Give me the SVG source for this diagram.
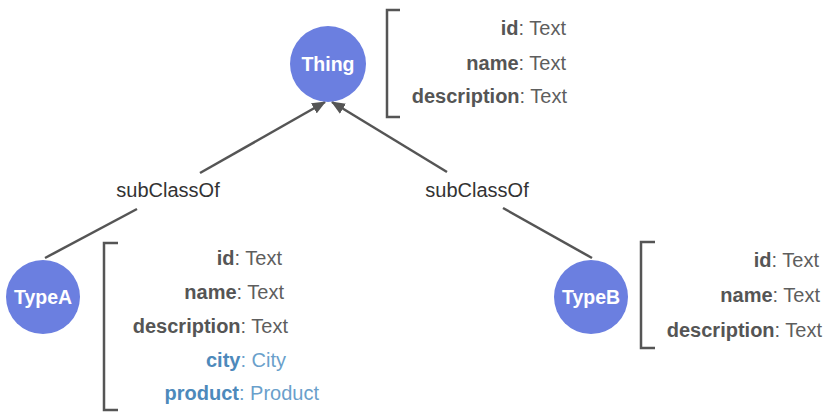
<svg xmlns="http://www.w3.org/2000/svg" width="827" height="412" viewBox="0 0 827 412">
<style>
.node{fill:#6b7fe0}
.nlabel{font-family:"Liberation Sans",Arial,sans-serif;font-weight:bold;font-size:19.5px;fill:#ffffff;text-anchor:middle}
.attr{font-family:"Liberation Sans",Arial,sans-serif;font-size:20px;fill:#5e5e5e;text-anchor:end}
.attr .k{font-weight:bold;fill:#555555}
.attr.blue{fill:#6a9fcb}
.attr.blue .k{fill:#4d89bb}
.bracket{fill:none;stroke:#555555;stroke-width:2.5}
.edge{fill:none;stroke:#555555;stroke-width:2.5}
.elabel{font-family:"Liberation Sans",Arial,sans-serif;font-size:20px;fill:#333333;text-anchor:middle}
</style>
<defs>
<marker id="arrow" viewBox="0 0 12 10" refX="11" refY="5" markerWidth="14" markerHeight="12" markerUnits="userSpaceOnUse" orient="auto">
<path d="M0,0 L12,5 L0,10 z" fill="#555555"/>
</marker>
</defs>
<g id="connectors">
<path class="edge" d="M45,258 L137,209"/>
<path class="edge" d="M200,173 L325,102" marker-end="url(#arrow)"/>
<text class="elabel" x="168" y="197">subClassOf</text>
<path class="edge" d="M592,258 L503,208"/>
<path class="edge" d="M447,172 L332,102" marker-end="url(#arrow)"/>
<text class="elabel" x="477" y="197">subClassOf</text>
</g>
<g id="thing">
<circle class="node" cx="328" cy="64" r="38"/>
<text class="nlabel" x="328" y="71">Thing</text>
<path class="bracket" d="M400,10 L387,10 L387,117 L400,117"/>
<text class="attr" x="566" y="35"><tspan class="k">id</tspan>: Text</text>
<text class="attr" x="566" y="70"><tspan class="k">name</tspan>: Text</text>
<text class="attr" x="567" y="103"><tspan class="k">description</tspan>: Text</text>
</g>
<g id="typeA">
<circle class="node" cx="43" cy="297" r="37"/>
<text class="nlabel" x="43" y="304">TypeA</text>
<path class="bracket" d="M118,243 L104,243 L104,410 L118,410"/>
<text class="attr" x="282" y="265"><tspan class="k">id</tspan>: Text</text>
<text class="attr" x="284" y="299"><tspan class="k">name</tspan>: Text</text>
<text class="attr" x="288" y="333"><tspan class="k">description</tspan>: Text</text>
<text class="attr blue" x="286" y="367"><tspan class="k">city</tspan>: City</text>
<text class="attr blue" x="319" y="400"><tspan class="k">product</tspan>: Product</text>
</g>
<g id="typeB">
<circle class="node" cx="591" cy="297" r="37"/>
<text class="nlabel" x="591" y="304">TypeB</text>
<path class="bracket" d="M655,242 L641,242 L641,348 L655,348"/>
<text class="attr" x="819" y="267"><tspan class="k">id</tspan>: Text</text>
<text class="attr" x="820" y="302"><tspan class="k">name</tspan>: Text</text>
<text class="attr" x="822" y="337"><tspan class="k">description</tspan>: Text</text>
</g>
</svg>
